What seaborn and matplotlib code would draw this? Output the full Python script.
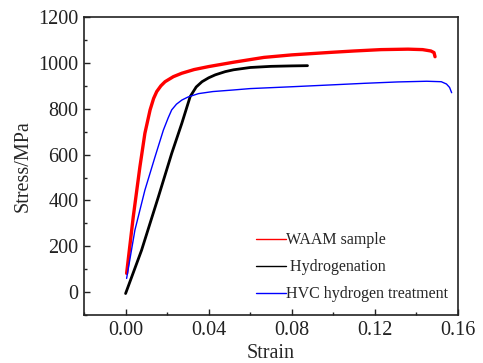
import numpy as np
import pandas as pd
import matplotlib
matplotlib.use("Agg")
import matplotlib.pyplot as plt
import seaborn as sns
from matplotlib.ticker import MultipleLocator

# Data
waam_strain = [0.0005, 0.0037, 0.0069, 0.0093, 0.0118, 0.0135, 0.0150, 0.0170, 0.0190, 0.0230,
               0.0271, 0.0330, 0.0400, 0.0520, 0.0666, 0.0800, 0.0988, 0.1100, 0.1230,
               0.1360, 0.1430, 0.1470, 0.1485, 0.1490]
waam_stress = [82, 329, 547, 693, 795, 845, 875, 900, 918, 940,
               955, 971, 984, 1003, 1024, 1035, 1046, 1052, 1058,
               1060, 1058, 1052, 1045, 1027]

hyd_strain = [0.0, 0.0077, 0.0158, 0.0222, 0.0271, 0.0311, 0.0340, 0.0368, 0.0400, 0.0432,
              0.0480, 0.0520, 0.0600, 0.0700, 0.0800, 0.0876]
hyd_stress = [-6, 183, 416, 605, 737, 853, 895, 918, 935, 948,
              962, 970, 980, 985, 987, 988]

hvc_strain = [0.0005, 0.0045, 0.0093, 0.0142, 0.0182, 0.0205, 0.0222, 0.0245, 0.0271, 0.0300,
              0.0351, 0.0420, 0.0520, 0.0600, 0.0800, 0.0988, 0.1150, 0.1310, 0.1450,
              0.1520, 0.1545, 0.1560, 0.1570]
hvc_stress = [60, 271, 445, 591, 707, 760, 795, 820, 838, 851,
              866, 875, 882, 888, 896, 904, 911, 917, 920,
              918, 908, 893, 870]

labels = ["WAAM sample", " Hydrogenation", "HVC hydrogen treatment"]
colors = ["#ff0000", "#000000", "#0000ff"]
widths = [2.4, 2.0, 1.0]

frames = []
for lab, xs, ys in zip(labels, [waam_strain, hyd_strain, hvc_strain],
                       [waam_stress, hyd_stress, hvc_stress]):
    frames.append(pd.DataFrame({"Strain": xs, "Stress": ys, "Sample": lab}))
df = pd.concat(frames, ignore_index=True)

sns.set_style("ticks")
plt.rcParams["font.family"] = ["Liberation Serif", "DejaVu Serif"]

fig = plt.figure(figsize=(4.83, 3.63), dpi=100)
ax = fig.add_axes([0.174, 0.132, 0.774, 0.821])

for lab, col, lw in zip(labels, colors, widths):
    sub = df[df["Sample"] == lab]
    sns.lineplot(data=sub, x="Strain", y="Stress", ax=ax, color=col, lw=lw,
                 sort=False, estimator=None, label=lab)

ax.set_xlim(-0.02, 0.16)
ax.set_ylim(-100, 1200)
ax.xaxis.set_minor_locator(MultipleLocator(0.02))
ax.yaxis.set_major_locator(MultipleLocator(200))
ax.yaxis.set_minor_locator(MultipleLocator(100))
ax.set_xticks([0.0, 0.04, 0.08, 0.12, 0.16])
ax.set_xticklabels(["0.00", "0.04", "0.08", "0.12", "0.16"])
ax.tick_params(axis="both", which="major", direction="in", length=4, width=1,
               labelsize=14.5, colors="#222222", labelcolor="#222222", pad=4)
ax.tick_params(axis="both", which="minor", direction="in", length=2.5, width=1,
               colors="#222222")
for s in ax.spines.values():
    s.set_linewidth(1.2)
    s.set_color("#222222")

ax.set_xlabel("Strain", fontsize=14.5, labelpad=3)
ax.set_ylabel("Stress/MPa", fontsize=14.5, labelpad=4)

leg = ax.legend(loc="lower right", frameon=False, fontsize=11.5, handlelength=1.9,
                handletextpad=0.0, labelspacing=0.68, bbox_to_anchor=(1.013, -0.005))
for h in leg.get_lines():
    h.set_linewidth(1.0)

fig.savefig("out.png", dpi=100)
